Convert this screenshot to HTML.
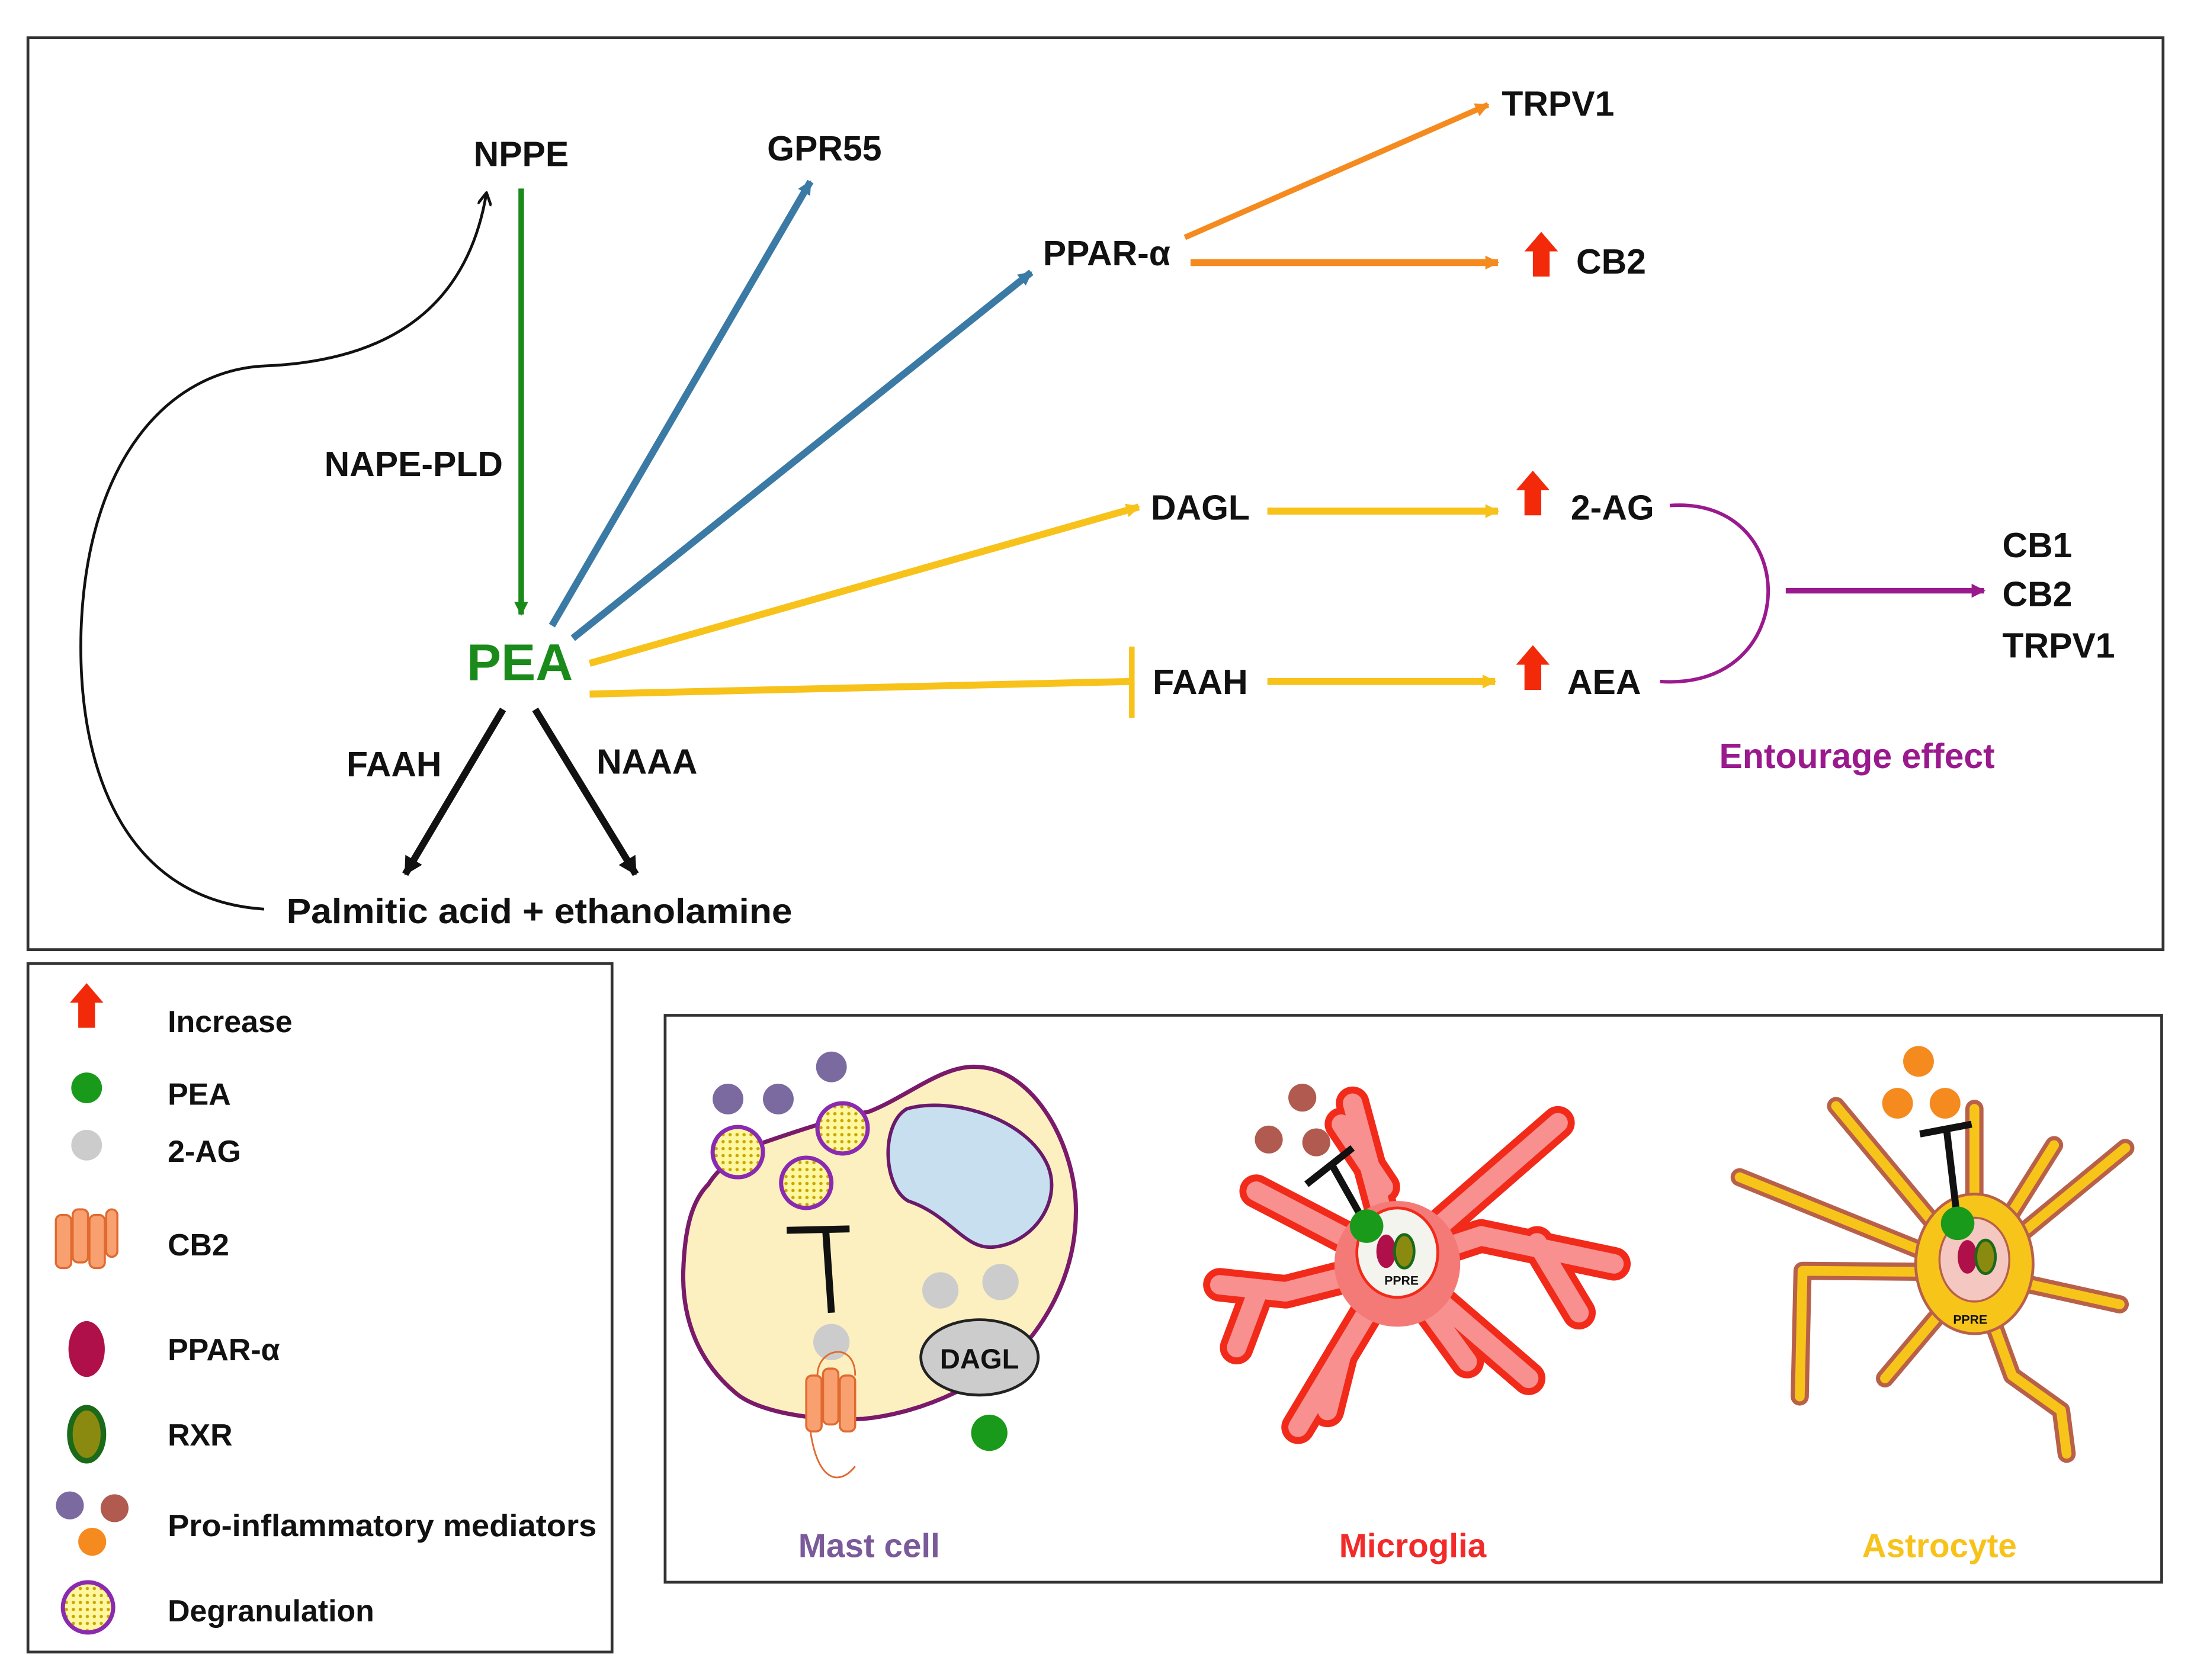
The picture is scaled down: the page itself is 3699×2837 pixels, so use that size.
<!DOCTYPE html>
<html><head><meta charset="utf-8"><style>
html,body{margin:0;padding:0;background:#fff}
svg{display:block}
text{font-family:"Liberation Sans",sans-serif;font-weight:bold;fill:#111}
</style></head><body>
<svg width="3699" height="2837" viewBox="0 0 1568 1203" preserveAspectRatio="none" xmlns="http://www.w3.org/2000/svg">
<defs>
<marker id="ab" markerWidth="10" markerHeight="10" refX="8" refY="5" orient="auto" markerUnits="userSpaceOnUse"><path d="M0,0 L9,5 L0,10" fill="none" stroke="#111" stroke-width="2"/></marker>
<marker id="ag" markerWidth="10" markerHeight="10" refX="9" refY="5" orient="auto" markerUnits="userSpaceOnUse"><path d="M0,0 L10,5 L0,10 Z" fill="#1a8a1a"/></marker>
<marker id="abl" markerWidth="10" markerHeight="10" refX="9" refY="5" orient="auto" markerUnits="userSpaceOnUse"><path d="M0,0 L10,5 L0,10 Z" fill="#3a7aa5"/></marker>
<marker id="ao" markerWidth="10" markerHeight="10" refX="9" refY="5" orient="auto" markerUnits="userSpaceOnUse"><path d="M0,0 L10,5 L0,10 Z" fill="#f58a1f"/></marker>
<marker id="ay" markerWidth="10" markerHeight="10" refX="9" refY="5" orient="auto" markerUnits="userSpaceOnUse"><path d="M0,0 L10,5 L0,10 Z" fill="#f7c21a"/></marker>
<marker id="ap" markerWidth="10" markerHeight="10" refX="9" refY="5" orient="auto" markerUnits="userSpaceOnUse"><path d="M0,0 L10,5 L0,10 Z" fill="#9a1a8e"/></marker>
<marker id="ak" markerWidth="14" markerHeight="14" refX="12" refY="7" orient="auto" markerUnits="userSpaceOnUse"><path d="M0,0 L13,7 L0,14 Z" fill="#111"/></marker>
<g id="up"><path d="M-12,0 L0,-14 L12,0 L6,0 L6,18 L-6,18 L-6,0 Z" fill="#f22a0a"/></g>
<pattern id="dots" width="5" height="5" patternUnits="userSpaceOnUse"><rect width="5" height="5" fill="#fff7a0"/><circle cx="2.5" cy="2.5" r="1.2" fill="#c8a800"/></pattern>
</defs>
<rect x="20" y="27" width="1528" height="653" fill="#fff" stroke="#333" stroke-width="2"/>
<rect x="20" y="690" width="418" height="493" fill="#fff" stroke="#333" stroke-width="2"/>
<rect x="476" y="727" width="1071" height="406" fill="#fff" stroke="#333" stroke-width="2"/>

<g font-size="25">
<text x="373" y="119" text-anchor="middle">NPPE</text>
<text x="590" y="115" text-anchor="middle">GPR55</text>
<text x="1115" y="83" text-anchor="middle">TRPV1</text>
<text x="792" y="190" text-anchor="middle">PPAR-α</text>
<text x="1153" y="196" text-anchor="middle">CB2</text>
<text x="296" y="341" text-anchor="middle">NAPE-PLD</text>
<text x="859" y="372" text-anchor="middle">DAGL</text>
<text x="1154" y="372" text-anchor="middle">2-AG</text>
<text x="859" y="497" text-anchor="middle">FAAH</text>
<text x="1148" y="497" text-anchor="middle">AEA</text>
<text x="1433" y="399">CB1</text>
<text x="1433" y="434">CB2</text>
<text x="1433" y="471">TRPV1</text>
<text x="1329" y="550" text-anchor="middle" style="fill:#9a1a8e">Entourage effect</text>
<text x="282" y="556" text-anchor="middle">FAAH</text>
<text x="463" y="554" text-anchor="middle">NAAA</text>
<text x="386" y="661" text-anchor="middle" textLength="362" lengthAdjust="spacingAndGlyphs">Palmitic acid + ethanolamine</text>
</g>
<text x="372" y="487" text-anchor="middle" font-size="37" style="fill:#1a8a1a">PEA</text>
<use href="#up" x="1103" y="180"/>
<use href="#up" x="1097" y="351"/>
<use href="#up" x="1097" y="476"/>

<line x1="373" y1="135" x2="373" y2="440" stroke="#1a8a1a" stroke-width="4" marker-end="url(#ag)"/>
<line x1="395" y1="448" x2="580" y2="130" stroke="#3a7aa5" stroke-width="5" marker-end="url(#abl)"/>
<line x1="410" y1="457" x2="738" y2="195" stroke="#3a7aa5" stroke-width="5" marker-end="url(#abl)"/>
<line x1="848" y1="170" x2="1065" y2="75" stroke="#f58a1f" stroke-width="4" marker-end="url(#ao)"/>
<line x1="852" y1="188" x2="1072" y2="188" stroke="#f58a1f" stroke-width="5" marker-end="url(#ao)"/>
<line x1="422" y1="475" x2="815" y2="363" stroke="#f7c21a" stroke-width="5" marker-end="url(#ay)"/>
<line x1="422" y1="497" x2="808" y2="488" stroke="#f7c21a" stroke-width="5"/>
<line x1="810" y1="463" x2="810" y2="514" stroke="#f7c21a" stroke-width="4"/>
<line x1="907" y1="366" x2="1072" y2="366" stroke="#f7c21a" stroke-width="5" marker-end="url(#ay)"/>
<line x1="907" y1="488" x2="1070" y2="488" stroke="#f7c21a" stroke-width="5" marker-end="url(#ay)"/>
<path d="M1195,362 C1290,355 1290,495 1188,488" fill="none" stroke="#9a1a8e" stroke-width="2.5"/>
<line x1="1278" y1="423" x2="1420" y2="423" stroke="#9a1a8e" stroke-width="4" marker-end="url(#ap)"/>
<line x1="360" y1="508" x2="290" y2="626" stroke="#111" stroke-width="5" marker-end="url(#ak)"/>
<line x1="383" y1="508" x2="455" y2="626" stroke="#111" stroke-width="5" marker-end="url(#ak)"/>
<path d="M189,651 C95,645 55,560 58,452 C62,330 120,265 190,262 C285,258 335,215 348,139" fill="none" stroke="#111" stroke-width="2" marker-end="url(#ab)"/>

<!-- legend -->
<use href="#up" x="62" y="718"/>
<circle cx="62" cy="779" r="11" fill="#1a9a1a"/>
<circle cx="62" cy="820" r="11" fill="#ccc"/>
<g fill="#f9a070" stroke="#e06a30" stroke-width="1.5">
<rect x="40" y="870" width="11" height="38" rx="4"/><rect x="52" y="866" width="11" height="38" rx="4"/><rect x="64" y="870" width="11" height="38" rx="4"/><rect x="76" y="866" width="8" height="34" rx="4"/>
</g>
<ellipse cx="62" cy="966" rx="13" ry="20" fill="#b0104a"/>
<ellipse cx="62" cy="1027" rx="12" ry="19" fill="#8a8a10" stroke="#1a6a1a" stroke-width="4"/>
<circle cx="50" cy="1078" r="10" fill="#7a6aa0"/><circle cx="82" cy="1080" r="10" fill="#b05a50"/><circle cx="66" cy="1104" r="10" fill="#f58a1f"/>
<circle cx="63" cy="1151" r="18" fill="url(#dots)" stroke="#8a2ab0" stroke-width="3"/>
<g font-size="22">
<text x="120" y="739">Increase</text>
<text x="120" y="791">PEA</text>
<text x="120" y="832">2-AG</text>
<text x="120" y="899">CB2</text>
<text x="120" y="974">PPAR-α</text>
<text x="120" y="1035">RXR</text>
<text x="120" y="1100" textLength="307" lengthAdjust="spacingAndGlyphs">Pro-inflammatory mediators</text>
<text x="120" y="1161">Degranulation</text>
</g>

<!-- mast cell -->
<path d="M544,819 C570,810 600,800 622,796 C650,785 675,762 700,764 C740,766 770,820 770,867 C770,905 755,935 739,956 C710,990 660,1012 618,1016 C580,1018 540,1010 526,997 C500,975 488,945 489,910 C490,880 495,860 507,848 C515,835 530,825 544,819 Z" fill="#fdf0c0" stroke="#7a1a6a" stroke-width="3"/>
<path d="M649,794 C680,785 735,800 750,835 C760,860 740,890 711,893 C690,895 680,870 650,860 C632,850 630,805 649,794 Z" fill="#c8dff0" stroke="#6a1a6a" stroke-width="2.5"/>
<circle cx="521" cy="787" r="11" fill="#7a6aa0"/><circle cx="557" cy="787" r="11" fill="#7a6aa0"/><circle cx="595" cy="764" r="11" fill="#7a6aa0"/>
<circle cx="528" cy="825" r="18" fill="url(#dots)" stroke="#8a2ab0" stroke-width="3"/>
<circle cx="603" cy="808" r="18" fill="url(#dots)" stroke="#8a2ab0" stroke-width="3"/>
<circle cx="577" cy="847" r="18" fill="url(#dots)" stroke="#8a2ab0" stroke-width="3"/>
<line x1="595" y1="940" x2="591" y2="882" stroke="#111" stroke-width="5"/><line x1="563" y1="881" x2="608" y2="880" stroke="#111" stroke-width="5"/>
<circle cx="595" cy="961" r="13" fill="#ccc"/>
<g fill="#f9a070" stroke="#e06a30" stroke-width="1.5">
<rect x="577" y="985" width="11" height="40" rx="4"/><rect x="589" y="980" width="11" height="40" rx="4"/><rect x="601" y="985" width="11" height="40" rx="4"/>
</g>
<path d="M580,1025 C585,1060 600,1065 612,1050 M585,985 C585,965 612,960 612,985" fill="none" stroke="#e06a30" stroke-width="1.2"/>
<circle cx="673" cy="924" r="13" fill="#ccc"/><circle cx="716" cy="918" r="13" fill="#ccc"/>
<ellipse cx="701" cy="972" rx="42" ry="27" fill="#ccc" stroke="#222" stroke-width="2"/>
<text x="701" y="980" text-anchor="middle" font-size="20" font-weight="normal">DAGL</text>
<circle cx="708" cy="1026" r="13" fill="#1a9a1a"/>

<!-- microglia -->
<g fill="none" stroke-linecap="round" stroke-linejoin="round">
<g stroke="#f22a1a" stroke-width="24">
<path d="M999,905 L968,790"/><path d="M990,850 L960,805"/>
<path d="M999,905 L1115,804"/><path d="M999,905 L1060,885 L1155,905"/><path d="M1100,890 L1130,940"/>
<path d="M999,905 L1094,987"/><path d="M999,905 L1050,975"/>
<path d="M999,905 L929,1022"/><path d="M960,970 L950,1010"/>
<path d="M999,905 L920,925 L873,920"/><path d="M900,925 L885,965"/>
<path d="M999,905 L899,853"/>
</g>
<g stroke="#f89090" stroke-width="14">
<path d="M999,905 L968,790"/><path d="M990,850 L960,805"/>
<path d="M999,905 L1115,804"/><path d="M999,905 L1060,885 L1155,905"/><path d="M1100,890 L1130,940"/>
<path d="M999,905 L1094,987"/><path d="M999,905 L1050,975"/>
<path d="M999,905 L929,1022"/><path d="M960,970 L950,1010"/>
<path d="M999,905 L920,925 L873,920"/><path d="M900,925 L885,965"/>
<path d="M999,905 L899,853"/>
</g>
</g>
<circle cx="1000" cy="905" r="45" fill="#f47a78"/>
<ellipse cx="1000" cy="897" rx="29" ry="32" fill="#f4f4ee" stroke="#f22a1a" stroke-width="2"/>
<circle cx="932" cy="786" r="10" fill="#b05a50"/><circle cx="908" cy="816" r="10" fill="#b05a50"/><circle cx="942" cy="818" r="10" fill="#b05a50"/>
<line x1="978" y1="878" x2="952" y2="832" stroke="#111" stroke-width="5"/><line x1="935" y1="848" x2="968" y2="822" stroke="#111" stroke-width="5"/>
<circle cx="978" cy="878" r="12" fill="#1a9a1a"/>
<ellipse cx="992" cy="896" rx="7" ry="12" fill="#b0104a"/><ellipse cx="1005" cy="896" rx="7" ry="12" fill="#8a8a10" stroke="#1a6a1a" stroke-width="2"/>
<text x="1003" y="920" text-anchor="middle" font-size="9">PPRE</text>

<!-- astrocyte -->
<g fill="none" stroke-linecap="round" stroke-linejoin="round">
<g stroke="#b8604a" stroke-width="13">
<path d="M1413,911 L1314,792"/><path d="M1413,911 L1245,843"/><path d="M1413,911 L1290,910 L1288,1000"/>
<path d="M1413,911 L1413,794"/><path d="M1413,911 L1470,820"/><path d="M1413,911 L1521,822"/><path d="M1413,911 L1517,934"/>
<path d="M1413,911 L1349,987"/><path d="M1413,911 L1440,985 L1475,1010 L1479,1041"/>
</g>
<g stroke="#f7c51a" stroke-width="7">
<path d="M1413,911 L1314,792"/><path d="M1413,911 L1245,843"/><path d="M1413,911 L1290,910 L1288,1000"/>
<path d="M1413,911 L1413,794"/><path d="M1413,911 L1470,820"/><path d="M1413,911 L1521,822"/><path d="M1413,911 L1517,934"/>
<path d="M1413,911 L1349,987"/><path d="M1413,911 L1440,985 L1475,1010 L1479,1041"/>
</g>
</g>
<ellipse cx="1413" cy="905" rx="42" ry="50" fill="#f7c51a" stroke="#b8604a" stroke-width="2"/>
<ellipse cx="1413" cy="902" rx="25" ry="30" fill="#f4c8c0" stroke="#b8604a" stroke-width="1.5"/>
<circle cx="1373" cy="760" r="11" fill="#f58a1f"/><circle cx="1358" cy="790" r="11" fill="#f58a1f"/><circle cx="1392" cy="790" r="11" fill="#f58a1f"/>
<line x1="1401" y1="875" x2="1393" y2="808" stroke="#111" stroke-width="5"/><line x1="1374" y1="812" x2="1411" y2="805" stroke="#111" stroke-width="5"/>
<circle cx="1401" cy="876" r="12" fill="#1a9a1a"/>
<ellipse cx="1408" cy="900" rx="7" ry="12" fill="#b0104a"/><ellipse cx="1421" cy="900" rx="7" ry="12" fill="#8a8a10" stroke="#1a6a1a" stroke-width="2"/>
<text x="1410" y="948" text-anchor="middle" font-size="9">PPRE</text>

<g font-size="24">
<text x="622" y="1115" text-anchor="middle" style="fill:#7a5a9a">Mast cell</text>
<text x="1011" y="1115" text-anchor="middle" style="fill:#f22a2a">Microglia</text>
<text x="1388" y="1115" text-anchor="middle" style="fill:#f7c21a">Astrocyte</text>
</g>
</svg>
</body></html>
